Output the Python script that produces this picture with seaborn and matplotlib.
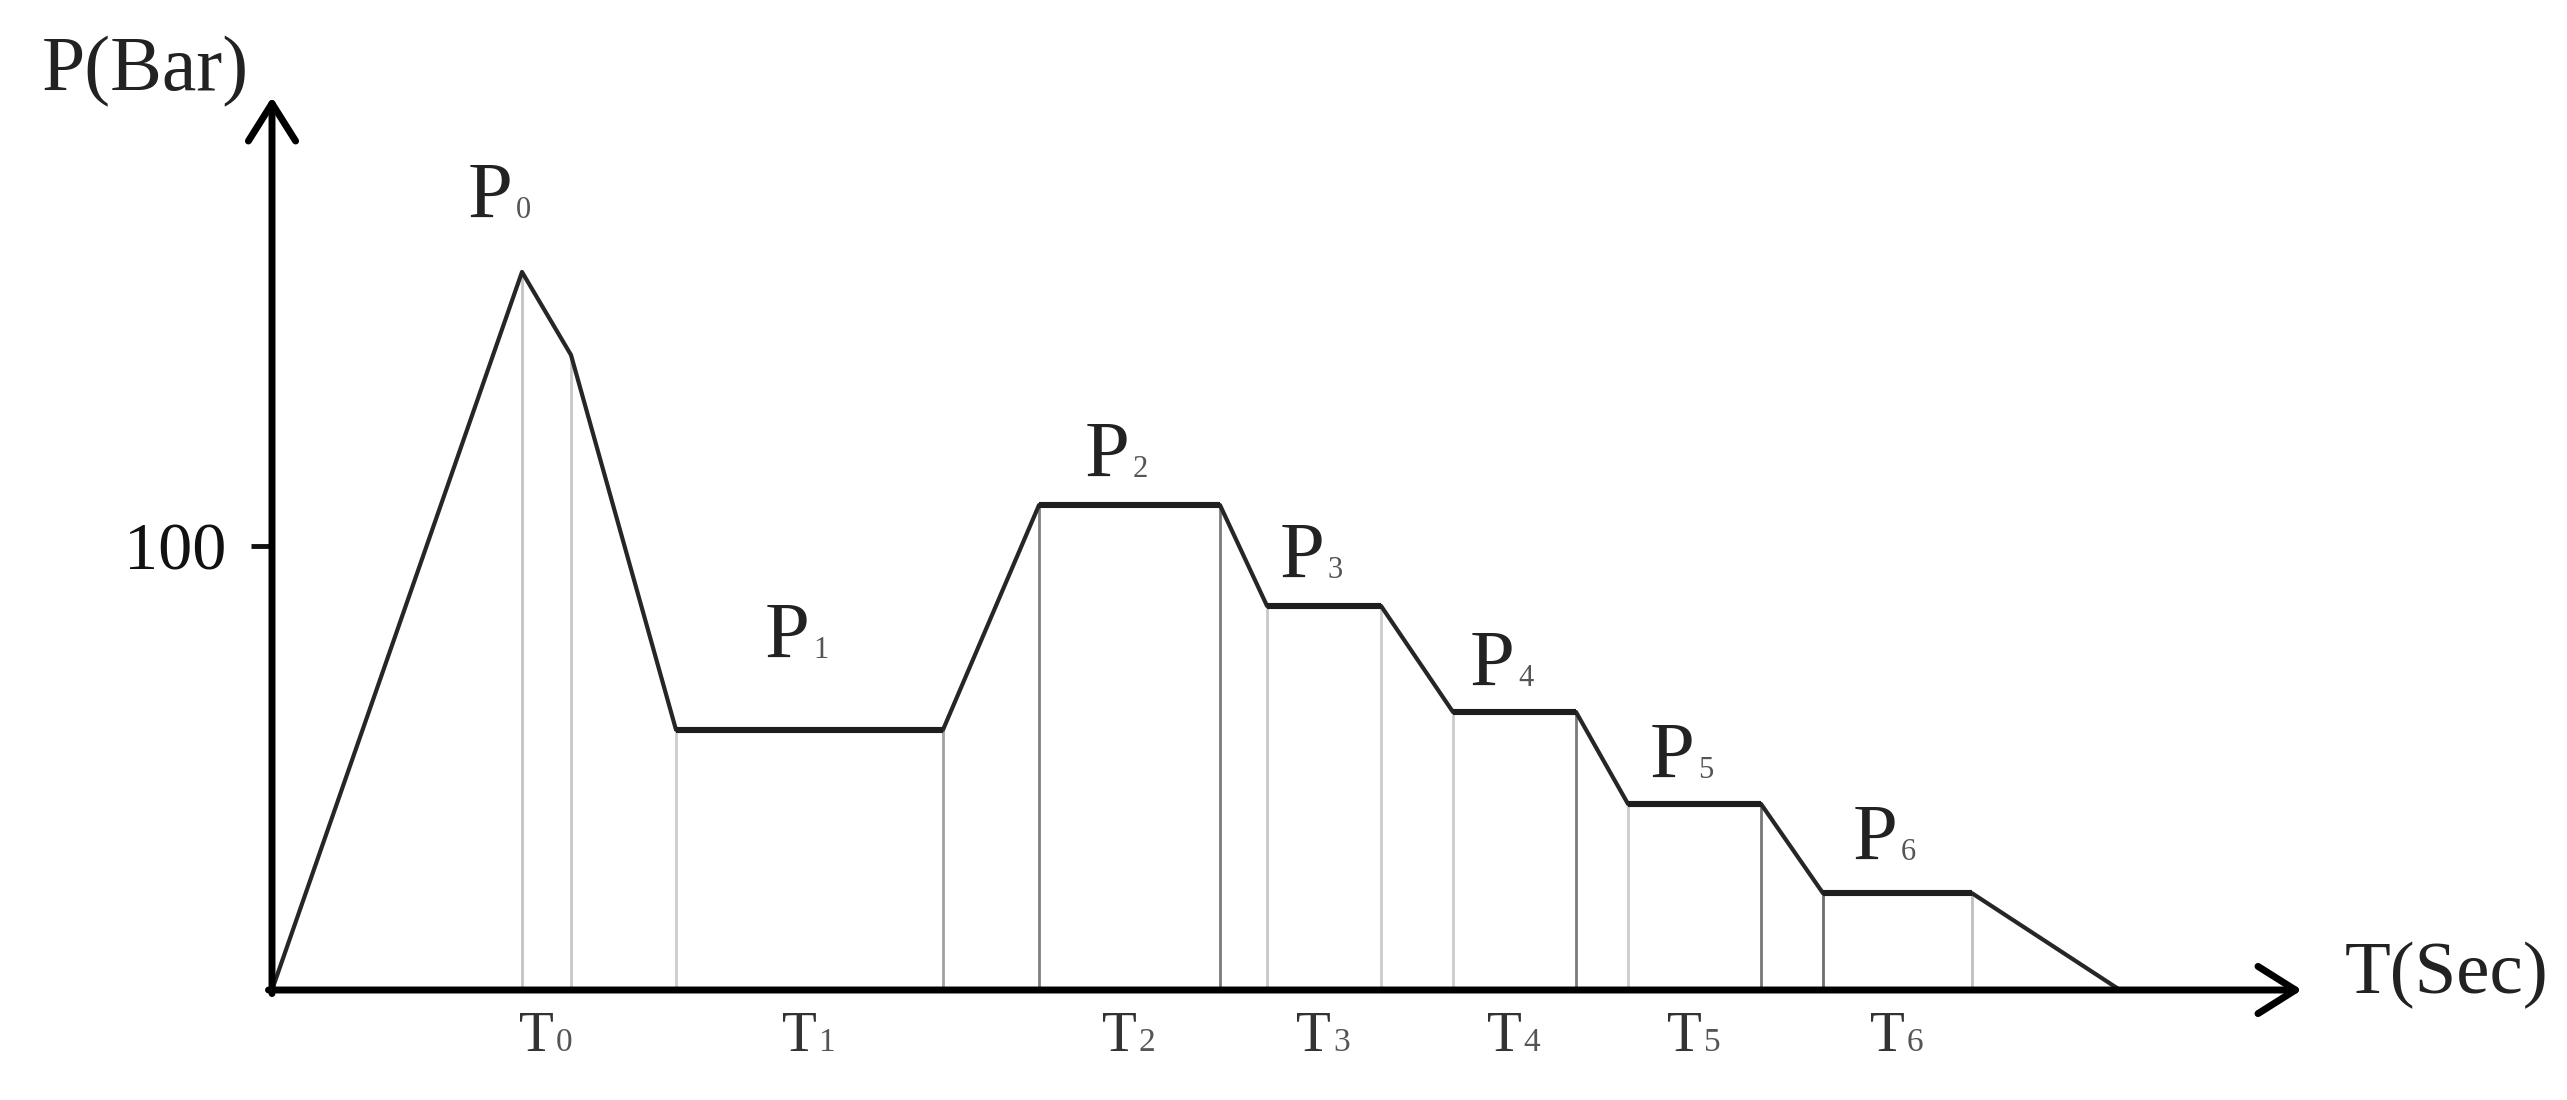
import matplotlib
matplotlib.use("Agg")
import matplotlib.pyplot as plt
import seaborn as sns

# pressure profile vertices: time (arbitrary units) and pressure (bar)
T_PTS = [0, 25.0, 29.9, 40.4, 67.1, 76.7, 94.8, 99.5, 110.9, 118.1, 130.4, 135.6, 148.9, 155.1, 170.0, 184.8]
P_PTS = [0, 161.7, 143.0, 58.6, 58.6, 109.2, 109.2, 86.5, 86.5, 62.6, 62.6, 41.9, 41.9, 21.8, 21.8, 0]

# stages: T0 is the knee right after the peak, T1..T6 are the holds (vertex index pairs)
STAGES = ["0", "1", "2", "3", "4", "5", "6"]
STAGE_SPANS = [(1, 2), (3, 4), (5, 6), (7, 8), (9, 10), (11, 12), (13, 14)]

Y_TICKS = [100]
T_MAX = 203.0
P_MAX = 201.1

# drop lines under each vertex, some lighter than others in the original
GUIDE_GREYS = ["#c4c4c4", "#c8c8c8", "#cccccc", "#a0a0a0", "#808080", "#7a7a7a", "#c8c8c8",
               "#cccccc", "#cccccc", "#7a7a7a", "#cccccc", "#777777", "#6e6e6e", "#c0c0c0"]
# how far above its level each P label sits (points)
P_LIFT = [39, 52, 20, 20, 19, 19, 24]

sns.set_theme(style="white")
plt.rcParams["font.family"] = ["Liberation Serif", "DejaVu Serif"]

fig = plt.figure(figsize=(25.67, 11), dpi=100)
ax = fig.add_axes([272 / 2567, 110 / 1100, 2030 / 2567, 893 / 1100])
ax.set_xlim(0, T_MAX)
ax.set_ylim(0, P_MAX)
for s in ax.spines.values():
    s.set_visible(False)

# drop lines
inner = range(1, len(T_PTS) - 1)
ax.vlines([T_PTS[i] for i in inner], 0, [P_PTS[i] for i in inner],
          colors=GUIDE_GREYS, lw=2.0, zorder=1)

# profile
sns.lineplot(x=T_PTS, y=P_PTS, estimator=None, sort=False, color="#262626",
             lw=3.0, ax=ax, zorder=3)
for a, b in STAGE_SPANS[1:]:
    ax.plot([T_PTS[a], T_PTS[b]], [P_PTS[a], P_PTS[b]], color="#1e1e1e",
            lw=4.4, solid_capstyle="butt", zorder=4)

# axes with arrows
arrow = dict(arrowstyle="->,head_length=1.35,head_width=0.85", lw=5, color="black",
             mutation_scale=20, shrinkA=0, shrinkB=0)
ax.annotate("", xy=(T_MAX, 0), xytext=(-0.35, 0), arrowprops=arrow, annotation_clip=False, zorder=6)
ax.annotate("", xy=(0, P_MAX), xytext=(0, -0.8), arrowprops=arrow, annotation_clip=False, zorder=6)

ax.set_xticks([])
ax.set_yticks(Y_TICKS)
ax.set_yticklabels([str(v) for v in Y_TICKS])
ax.tick_params(axis="y", length=15, width=3.5, pad=18, labelsize=49,
               colors="#111111", direction="out", left=True)

# P labels
for k, (a, b) in enumerate(STAGE_SPANS):
    if k == 0:
        x, y = T_PTS[1], P_PTS[1]
        dx = -7
    else:
        x, y = (T_PTS[a] + T_PTS[b]) / 2, P_PTS[a]
        dx = 0
    ax.annotate("P", xy=(x, y), xytext=(dx, P_LIFT[k]), textcoords="offset points",
                ha="right", va="baseline", fontsize=58, color="#222222", annotation_clip=False)
    ax.annotate(STAGES[k], xy=(x, y), xytext=(dx + 2.5, P_LIFT[k]), textcoords="offset points",
                ha="left", va="baseline", fontsize=22, color="#555555", annotation_clip=False)

# T labels under the axis
for k, (a, b) in enumerate(STAGE_SPANS):
    x = (T_PTS[a] + T_PTS[b]) / 2
    ax.annotate("T", xy=(x, 0), xytext=(5, -44), textcoords="offset points",
                ha="right", va="baseline", fontsize=41, color="#333333", annotation_clip=False)
    ax.annotate(STAGES[k], xy=(x, 0), xytext=(6.5, -44), textcoords="offset points",
                ha="left", va="baseline", fontsize=24, color="#555555", annotation_clip=False)

fig.text(42 / 2567, 1 - 90 / 1100, "P(Bar)", fontsize=56, color="#222222", ha="left", va="baseline")
fig.text(2345 / 2567, 1 - 993 / 1100, "T(Sec)", fontsize=54, color="#222222", ha="left", va="baseline")

fig.savefig("out.png", dpi=100)
